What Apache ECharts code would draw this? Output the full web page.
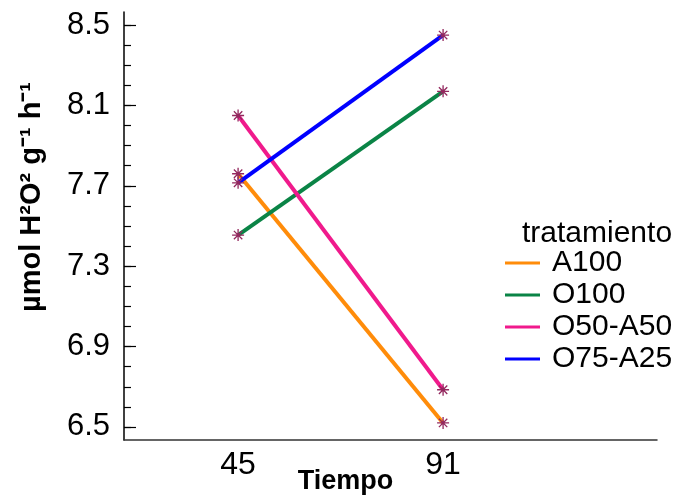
<!DOCTYPE html>
<html>
<head>
<meta charset="utf-8">
<script src="https://cdn.jsdelivr.net/npm/echarts@6/dist/echarts.min.js"></script>
<style>
  html, body { margin: 0; padding: 0; background: #fff; }
  #chart { width: 684px; height: 498px; }
</style>
</head>
<body>
<div id="chart"></div>
<script>
// days of sampling
const tiempo = [45, 91]
// values per tratamiento
const a100 = [7.76, 6.52]
const o100 = [7.455, 8.17]
const o50a50 = [8.05, 6.685]
const o75a25 = [7.715, 8.45]
const seriesNames = ['A100', 'O100', 'O50-A50', 'O75-A25']
const seriesColors = ['#ff8c0a', '#0a8446', '#f01a8c', '#0000ff']
// tick labels
const yLabels = [6.5, 6.9, 7.3, 7.7, 8.1, 8.5]
const yMinorTicks = [6.5, 6.6, 6.7, 6.8, 6.9, 7.0, 7.1, 7.2, 7.3, 7.4, 7.5, 7.6, 7.7, 7.8, 7.9, 8.0, 8.1, 8.2, 8.3, 8.4, 8.5]
const xLabels = [45, 91]

const font = 'Liberation Sans, Arial, sans-serif'
const allValues = [a100, o100, o50a50, o75a25]

let chart = echarts.init(document.getElementById('chart'))

let series = allValues.map(function (vals, i) {
  return {
    name: seriesNames[i],
    type: 'line',
    yAxisIndex: 0,
    data: tiempo.map(function (t, j) { return [t, vals[j]] }),
    symbol: 'path://M5,0L5,10M0,5L10,5M1.5,1.5L8.5,8.5M1.5,8.5L8.5,1.5',
    symbolSize: 12,
    showSymbol: true,
    lineStyle: { color: seriesColors[i], width: 4 },
    itemStyle: { color: 'transparent', borderColor: '#93285e', borderWidth: 1.3 },
    emphasis: { disabled: true },
    z: 2 + i
  }
})

let option = {
  animation: false,
  backgroundColor: '#fff',
  textStyle: { fontFamily: font },
  title: {
    text: 'tratamiento',
    left: 517,
    top: 214,
    textStyle: { fontSize: 30, fontWeight: 'normal', color: '#000', fontFamily: font }
  },
  legend: {
    orient: 'vertical',
    left: 500,
    top: 243,
    itemWidth: 35,
    itemHeight: 3,
    itemGap: 2,
    textStyle: { fontSize: 30, color: '#000', fontFamily: font, padding: [0, 0, 0, 7] },
    data: seriesNames.map(function (n, i) {
      return { name: n, icon: 'rect', itemStyle: { color: seriesColors[i], borderWidth: 0 } }
    })
  },
  grid: { left: 124, right: 27, top: 12, bottom: 58, outerBoundsMode: 'none' },
  xAxis: {
    type: 'value',
    min: 19.4,
    max: 139,
    name: 'Tiempo',
    nameLocation: 'middle',
    nameGap: 28,
    nameMoveOverlap: false,
    nameTextStyle: { fontSize: 27, fontWeight: 'bold', color: '#000', padding: [0, 90, 0, 0] },
    axisLine: { show: true, lineStyle: { color: '#333', width: 1.5 } },
    axisTick: { show: false },
    splitLine: { show: false },
    axisLabel: { customValues: xLabels, fontSize: 32, color: '#000', margin: 9 }
  },
  yAxis: [{
    type: 'value',
    min: 6.435,
    max: 8.565,
    name: 'µmol H²O² g⁻¹ h⁻¹',
    nameLocation: 'middle',
    nameGap: 78,
    nameMoveOverlap: false,
    nameTextStyle: { fontSize: 29, fontWeight: 'bold', color: '#000', padding: [0, 0, 0, 58] },
    axisLine: { show: true, lineStyle: { color: '#000', width: 1.5 } },
    axisTick: { show: true, inside: true, length: 12, customValues: yLabels, lineStyle: { color: '#000', width: 1.2 } },
    splitLine: { show: false },
    axisLabel: { customValues: yLabels, fontSize: 31, color: '#000', margin: 14, formatter: function (v) { return v.toFixed(1) } }
  }, {
    type: 'value',
    min: 6.435,
    max: 8.565,
    position: 'left',
    axisLine: { show: false },
    axisTick: { show: true, inside: true, length: 7, customValues: yMinorTicks, lineStyle: { color: '#000', width: 1.2 } },
    splitLine: { show: false },
    axisLabel: { show: false }
  }],
  series: series
}

chart.setOption(option)
</script>
</body>
</html>
